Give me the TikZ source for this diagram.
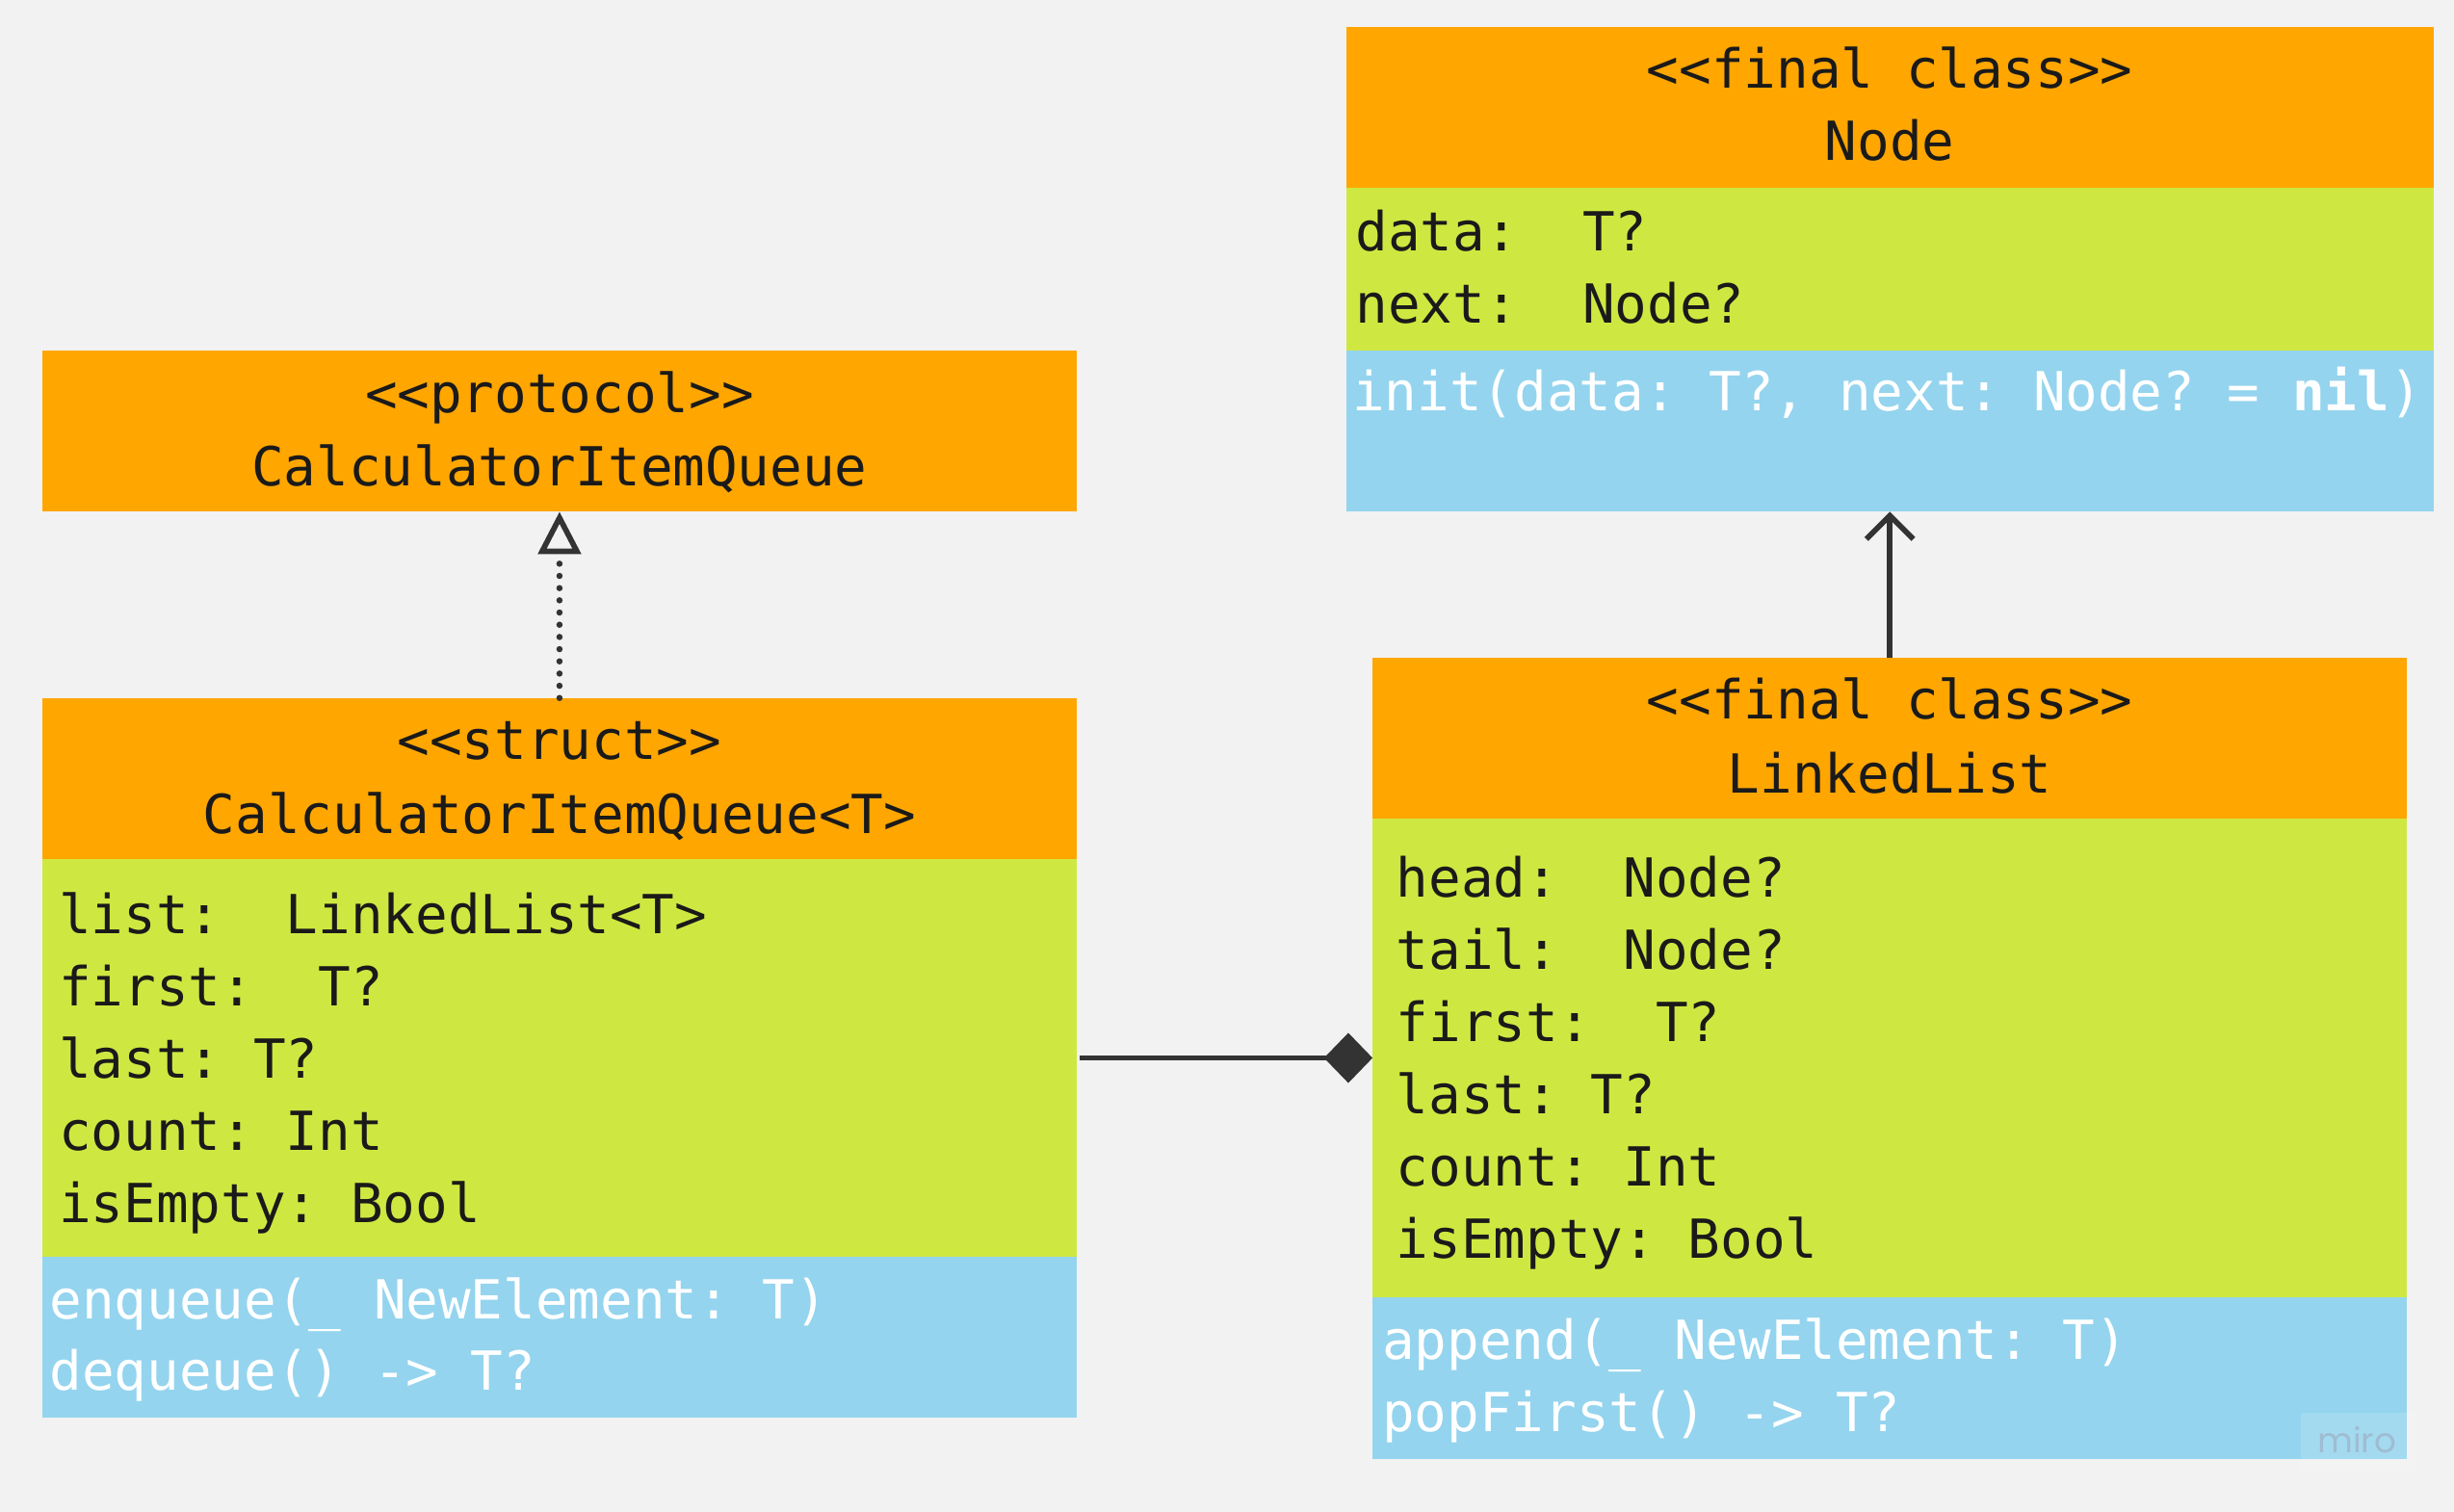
\documentclass[tikz,border=0pt]{standalone}
\usepackage{fontspec}
\setmonofont{DejaVu Sans Mono}
\newfontfamily\umlfont{DejaVu Sans Mono}
\newfontfamily\wmfont{Poppins}
\usetikzlibrary{arrows.meta}
\definecolor{bgc}{RGB}{242,242,242}
\definecolor{hdrc}{RGB}{255,166,0}
\definecolor{attc}{RGB}{207,232,65}
\definecolor{opc}{RGB}{148,212,238}
\definecolor{txtc}{RGB}{26,26,26}
\definecolor{linec}{RGB}{51,51,51}
\definecolor{wmc}{RGB}{160,188,210}
\frenchspacing
\begin{document}
\begin{tikzpicture}[x=1pt,y=-1pt,
  part/.style={draw=none, inner sep=0pt, outer sep=0pt, anchor=north west},
  hdr/.style={part, fill=hdrc},
  att/.style={part, fill=attc},
  ops/.style={part, fill=opc},
  ctext/.style={inner sep=0pt, anchor=base, text=txtc, font=\umlfont\frenchspacing\fontsize{34.4}{41}\selectfont},
  ltext/.style={ctext, anchor=base west},
  wtext/.style={ltext, text=white},
  conn/.style={draw=linec, line width=3.5pt},
]
\useasboundingbox (0,0) rectangle (1568,966);
\fill[bgc] (0,0) rectangle (1568,966);

% protocol
\node[hdr, minimum width=661pt, minimum height=103pt] (protoH) at (27,224) {};
\node[ctext] (protoS) at (357.5,263.5) {<{}<protocol>{}>};
\node[ctext] (protoN) at (357.5,310.5) {CalculatorItemQueue};

% struct
\node[hdr, minimum width=661pt, minimum height=103pt] (structH) at (27,446) {};
\node[att, minimum width=661pt, minimum height=254pt] (structA) at (27,549) {};
\node[ops, minimum width=661pt, minimum height=103pt] (structO) at (27,803) {};
\node[ctext] (structS) at (357.5,485.5) {<{}<struct>{}>};
\node[ctext] (structN) at (357.5,532.5) {CalculatorItemQueue<T>};
\node[ltext] (sa1) at (37.5,596.8) {list:\ \ LinkedList<T>};
\node[ltext] (sa2) at (37.5,642.9) {first:\ \ T?};
\node[ltext] (sa3) at (37.5,689.0) {last: T?};
\node[ltext] (sa4) at (37.5,735.1) {count: Int};
\node[ltext] (sa5) at (37.5,781.2) {isEmpty: Bool};
\node[wtext] (so1) at (31.5,842.5) {enqueue(\_ NewElement: T)};
\node[wtext] (so2) at (31.5,888.5) {dequeue() -> T?};

% Node
\node[hdr, minimum width=695pt, minimum height=103pt] (nodeH) at (860,17) {};
\node[att, minimum width=695pt, minimum height=104pt] (nodeA) at (860,120) {};
\node[ops, minimum width=695pt, minimum height=103pt] (nodeO) at (860,224) {};
\node[ctext] (nodeS) at (1207.5,56.6) {<{}<final class>{}>};
\node[ctext] (nodeN) at (1207.5,102.7) {Node};
\node[ltext] (na1) at (866,160.5) {data:\ \ T?};
\node[ltext] (na2) at (866,206.5) {next:\ \ Node?};
\node[wtext] (no1) at (864,262.6) {init(data: T?, next: Node? = {\bfseries nil})};

% LinkedList
\node[hdr, minimum width=661pt, minimum height=103pt] (llH) at (877,420) {};
\node[att, minimum width=661pt, minimum height=306pt] (llA) at (877,523) {};
\node[ops, minimum width=661pt, minimum height=103pt] (llO) at (877,829) {};
\node[ctext] (llS) at (1207.5,459.5) {<{}<final class>{}>};
\node[ctext] (llN) at (1207.5,506.5) {LinkedList};
\node[ltext] (la1) at (892,573.5) {head:\ \ Node?};
\node[ltext] (la2) at (892,619.6) {tail:\ \ Node?};
\node[ltext] (la3) at (892,665.7) {first:\ \ T?};
\node[ltext] (la4) at (892,711.8) {last: T?};
\node[ltext] (la5) at (892,757.9) {count: Int};
\node[ltext] (la6) at (892,804.0) {isEmpty: Bool};
\node[wtext] (lo1) at (883,868.5) {append(\_ NewElement: T)};
\node[wtext] (lo2) at (883,914.5) {popFirst() -> T?};

% connectors
\draw[conn, line width=4pt, line cap=round, dash pattern=on 0pt off 7.8pt,
  -{Triangle[open, length=27pt, width=27pt, line width=3.5pt]}] (structH.north) -- (protoH.south);
\draw[conn, -{Straight Barb[length=15pt, width=30pt]}] (llH.north) -- (nodeO.south);
\draw[conn, -{Diamond[length=31pt, width=32pt]}] ([xshift=2pt]structA.east) -- (llA.west);

% watermark
\node[part, fill=white, fill opacity=0.15, minimum width=73pt, minimum height=37pt] (wmbox) at (1470,903) {};
\node[inner sep=0pt, anchor=base, text=wmc, font=\wmfont\fontsize{22}{22}\selectfont] (wm) at (1506,928.5) {miro};
\end{tikzpicture}
\end{document}
